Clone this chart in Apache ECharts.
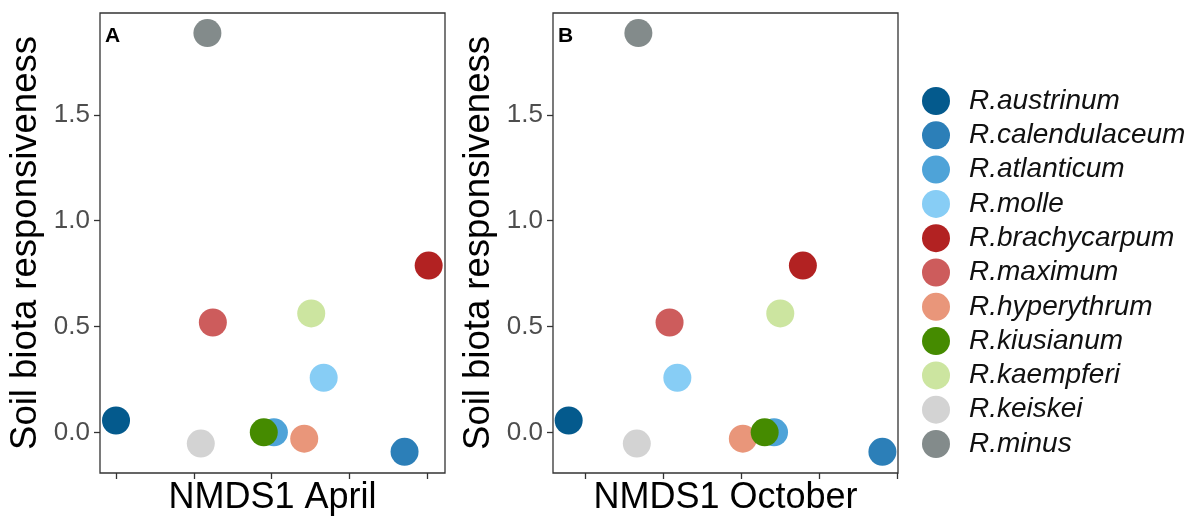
<!DOCTYPE html>
<html><head><meta charset="utf-8">
<script src="https://cdn.jsdelivr.net/npm/echarts@6/dist/echarts.min.js"></script>
<style>html,body{margin:0;padding:0;background:#fff}#c{width:1194px;height:521px}</style>
</head><body><div id="c"></div>
<script>
const species = ["R.austrinum","R.calendulaceum","R.atlanticum","R.molle","R.brachycarpum","R.maximum","R.hyperythrum","R.kiusianum","R.kaempferi","R.keiskei","R.minus"];
const colors = ["#045a8d","#2c7fb8","#4ea3d8","#87cdf5","#b22222","#cd5c5c","#e9967a","#458b00","#cce5a0","#d3d3d3","#838b8b"];
const responsiveness = [0.056,-0.092,0.0,0.258,0.788,0.519,-0.030,0.0,0.562,-0.053,1.886];
const nmdsApril = [0.0,3.71,2.03,2.67,4.02,1.245,2.42,1.90,2.51,1.09,1.175];
const nmdsOctober = [-0.214,3.81,2.42,1.18,2.79,1.08,2.02,2.30,2.50,0.66,0.68];
const xTicks = [0,1,2,3,4];
const yTicks = [0,0.5,1.0,1.5];
const panelLabels = ["A","B"];
const xTitles = ["NMDS1 April","NMDS1 October"];
const yTitle = "Soil biota responsiveness";

const FONT = "Liberation Sans, Arial, sans-serif";
const grids = [
  {left:100, top:13, width:345, height:465},
  {left:553, top:13, width:345, height:465}
];
const xRanges = [[-0.206,4.23],[-0.415,4.01]];
const option = {
  animation:false,
  backgroundColor:"#fff",
  title: panelLabels.map((t,i)=>({text:t, left:grids[i].left, top:grids[i].top+8,
    textStyle:{fontFamily:FONT,fontWeight:"bold",fontSize:21,color:"#000"}})),
  grid: grids.map(g=>Object.assign({show:true,borderColor:"#333",borderWidth:1.3,backgroundColor:"#fff"},g)),
  legend:{orient:"vertical", left:917, top:82, itemWidth:28, itemHeight:28, itemGap:6.3,
    icon:"circle", data:species,
    textStyle:{fontFamily:FONT,fontStyle:"italic",fontSize:28,color:"#111",padding:[0,0,0,14]}},
  xAxis: [0,1].map(i=>({type:"value", gridIndex:i, min:xRanges[i][0], max:xRanges[i][1],
    name:xTitles[i], nameLocation:"middle", nameGap:7,
    nameTextStyle:{fontFamily:FONT,fontSize:36,color:"#000",verticalAlign:"top"},
    axisLine:{show:false,onZero:false}, splitLine:{show:false},
    axisTick:{show:true,length:6,lineStyle:{color:"#333",width:1.3},customValues:xTicks},
    axisLabel:{show:false,customValues:xTicks}})),
  yAxis: [0,1].map(i=>({type:"value", gridIndex:i, min:-0.192, max:1.981,
    name:yTitle, nameLocation:"middle", nameGap:56, nameRotate:90,
    nameTextStyle:{fontFamily:FONT,fontSize:36.5,color:"#000"},
    axisLine:{show:false,onZero:false}, splitLine:{show:false},
    axisTick:{show:true,length:6,lineStyle:{color:"#333",width:1.3},customValues:yTicks},
    axisLabel:{customValues:yTicks, fontFamily:FONT,fontSize:26,color:"#4d4d4d",margin:10,
      formatter:v=>v.toFixed(1)}})),
  series: []
};
[nmdsApril, nmdsOctober].forEach((xs,p)=>{
  species.forEach((s,k)=>{
    option.series.push({type:"scatter", name:s, xAxisIndex:p, yAxisIndex:p,
      symbolSize:28, itemStyle:{color:colors[k],opacity:1},
      data:[[xs[k],responsiveness[k]]]});
  });
});
const chart = echarts.init(document.getElementById("c"),null,{renderer:"canvas"});
chart.setOption(option);
</script></body></html>
